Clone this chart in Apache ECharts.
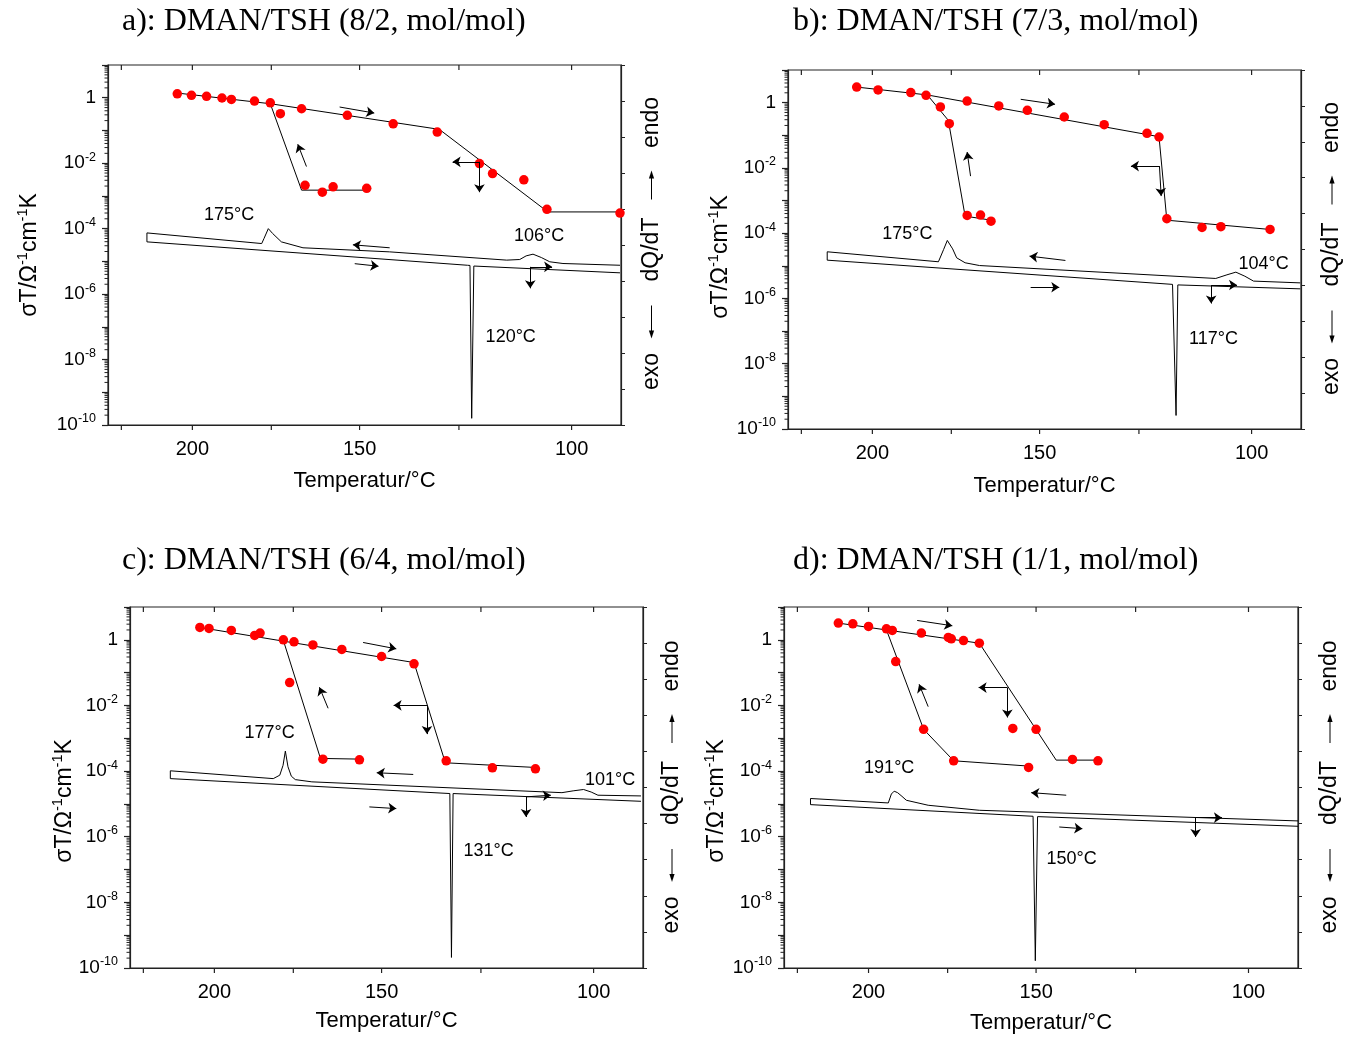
<!DOCTYPE html>
<html><head><meta charset="utf-8">
<script src="https://cdn.jsdelivr.net/npm/echarts@6/dist/echarts.min.js"></script>
<style>html,body{margin:0;padding:0;background:#fff}#c{width:1354px;height:1037px}</style>
</head><body><div id="c"></div>
<script>
// ---------- axis definitions ----------
const T_LEFT = 230, T_RIGHT = 90;            // °C at left/right plot edges (axis linear in 1000/T)
const xTickT = [225, 200, 175, 150, 125, 100];
const xLabelT = [200, 150, 100];
const yLabelExp = [-10, -8, -6, -4, -2, 0];
const logMinorFactors = [2, 3, 4, 5, 6, 7, 8, 9];
const titles = ['a): DMAN/TSH (8/2, mol/mol)', 'b): DMAN/TSH (7/3, mol/mol)',
                'c): DMAN/TSH (6/4, mol/mol)', 'd): DMAN/TSH (1/1, mol/mol)'];

// ---------- panel a ----------
const a_dots = [[205.1,1.32],[200.3,1.18],[195.3,1.10],[190.3,0.98],[187.3,0.89],[180.1,0.79],[175.3,0.70],
  [172.3,0.325],[166.1,0.46],[153.3,0.29],[141.2,0.16],[130.2,0.0895],[120.2,0.0097],[117.2,0.0048],
  [110.2,0.0031],[105.2,3.9e-4],[90.2,3.0e-4],[165.1,0.0021],[160.2,0.0013],[157.2,0.0019],[148.1,0.0017]];
const a_fitMain = [[205.1,1.39],[175.3,0.656],[129.7,0.108],[105.0,3.24e-4],[90.2,3.24e-4]];
const a_fitLoop = [[175.3,0.656],[166.1,1.5e-3],[148.1,1.5e-3]];
const a_dsc = [[90.2,7.6e-6],[101.8,8.6e-6],[104.6,9.7e-6],[106.4,1.31e-5],[108.2,1.66e-5],[109.7,1.47e-5],
  [111.1,1.14e-5],[114.0,1.09e-5],[142.1,1.95e-5],[165.7,2.6e-5],[172.0,3.94e-5],[174.6,7.1e-5],[175.9,1.0e-4],
  [177.2,5.0e-5],[177.9,3.5e-5],[215.7,7.4e-5],[215.7,3.94e-5],[123.0,7.6e-6],[122.4,7.5e-6],[122.0,1.6e-10],
  [121.5,7.2e-6],[121.1,7.1e-6],[90.2,4.46e-6]];
const a_arrows = [[[155.4,0.52],[146.1,0.34]],[[164.7,0.0079],[167.2,0.038]],
  [[120.2,0.011],[126.5,0.011]],[[120.2,0.011],[120.2,1.3e-3]],
  [[142.1,2.6e-5],[151.8,3.2e-5]],[[151.3,8.5e-6],[145.0,7.1e-6]],
  [[108.8,6.8e-6],[104.1,6.8e-6]],[[108.8,6.8e-6],[108.8,1.5e-6]]];
const a_notes = [[188.0,2.6e-4,'175°C'],[106.9,5.9e-5,'106°C'],[113.1,5e-8,'120°C']];

// ---------- panel b ----------
const b_dots = [[205.3,3.0],[198.1,2.45],[187.5,2.03],[182.7,1.68],[178.3,0.736],[175.6,0.227],[170.3,1.12],
  [161.2,0.79],[153.3,0.58],[143.5,0.363],[133.4,0.211],[123.1,0.115],[120.3,0.0885],[118.5,2.77e-4],
  [110.6,1.5e-4],[106.5,1.58e-4],[96.2,1.3e-4],[170.3,3.5e-4],[166.4,3.58e-4],[163.4,2.34e-4]];
const b_fitMain = [[205.3,3.0],[182.3,1.72],[120.3,0.0905],[118.5,2.5e-4],[96.2,1.3e-4]];
const b_fitLoop = [[182.3,1.72],[175.9,0.287],[170.9,3.34e-4],[163.4,2.5e-4]];
const b_dsc = [[90.15,3.0e-6],[99.6,3.4e-6],[101.4,4.8e-6],[103.3,6.4e-6],[105.2,5.3e-6],[107.6,4.1e-6],
  [166.7,1.02e-5],[170.9,1.24e-5],[173.4,1.76e-5],[174.6,3.3e-5],[176.2,6.0e-5],[177.3,3.2e-5],[178.9,1.33e-5],
  [215.6,2.69e-5],[215.6,1.49e-5],[117.2,2.7e-6],[116.8,2.65e-6],[116.4,2.6e-10],[116.0,2.6e-6],[90.15,1.97e-6]];
const b_arrows = [[[155.1,1.265],[145.9,0.889]],[[169.3,5.6e-3],[170.3,0.0307]],
  [[120.2,0.0114],[126.9,0.0114]],[[120.2,0.0114],[119.8,1.37e-3]],
  [[143.2,1.46e-5],[152.7,1.98e-5]],[[152.4,2.2e-6],[144.8,2.2e-6]],
  [[108.6,2.55e-6],[103.05,2.6e-6]],[[108.6,2.55e-6],[108.6,7e-7]]];
const b_notes = [[188.6,9.1e-5,'175°C'],[97.5,1.1e-5,'104°C'],[108.1,5.8e-8,'117°C']];

// ---------- panel c ----------
const c_dots = [[204.9,2.38],[201.8,2.22],[194.4,1.93],[186.9,1.36],[185.2,1.6],[178.0,1.0],[174.8,0.87],
  [169.2,0.70],[160.9,0.51],[150.0,0.31],[141.5,0.185],[133.4,2.06e-4],[122.3,1.26e-4],[112.5,1.17e-4],
  [176.1,0.0497],[166.3,2.3e-4],[156.0,2.2e-4]];
const c_fitMain = [[204.9,2.38],[141.5,0.203],[133.6,1.79e-4],[112.5,1.29e-4]];
const c_fitLoop = [[178.0,0.955],[167.0,2.43e-4],[156.0,2.32e-4]];
const c_dsc = [[90.4,1.75e-5],[99.1,1.84e-5],[100.5,2.3e-5],[102.1,2.75e-5],[104.3,2.5e-5],[106.7,2.2e-5],
  [169.5,4.7e-5],[174.4,5.5e-5],[175.6,7.0e-5],[176.6,1.35e-4],[177.4,4.07e-4],[178.1,1.5e-4],[179.1,7.5e-5],
  [181.1,5.9e-5],[215.2,1.02e-4],[215.2,5.9e-5],[132.5,2.07e-5],[132.1,2.1e-10],[131.7,2.07e-5],[90.4,1.2e-5]];
const c_arrows = [[[155.0,0.83],[146.1,0.53]],[[164.8,8.2e-3],[167.3,0.0358]],
  [[138.2,0.0101],[146.8,0.0101]],[[138.2,0.0101],[138.2,1.34e-3]],
  [[141.7,7.9e-5],[151.3,8.9e-5]],[[153.3,8.1e-6],[146.1,7.2e-6]],
  [[114.6,1.64e-5],[109.1,1.84e-5]],[[114.6,1.64e-5],[114.6,4e-6]]];
const c_notes = [[182.2,1.41e-3,'177°C'],[96.6,5.5e-5,'101°C'],[123.2,3.7e-7,'131°C']];

// ---------- panel d ----------
const d_dots = [[210.3,3.23],[205.3,3.08],[200.0,2.55],[194.1,2.17],[192.2,1.93],[183.0,1.6],[174.8,1.18],
  [173.9,1.07],[170.3,0.95],[165.7,0.79],[156.3,2.0e-3],[150.0,1.87e-3],[140.5,2.26e-4],[134.1,2.06e-4],
  [191.1,0.218],[182.3,1.87e-3],[173.2,2.06e-4],[152.0,1.29e-4]];
const d_fitMain = [[210.3,3.23],[165.7,0.79],[144.7,2.16e-4],[134.1,2.16e-4]];
const d_fitLoop = [[194.1,2.02],[182.3,1.87e-3],[173.2,2.06e-4],[152.0,1.42e-4]];
const d_dsc = [[90.0,3.03e-6],[165.7,6.4e-6],[180.9,9.1e-6],[187.7,1.29e-5],[189.1,1.7e-5],[190.5,2.2e-5],
  [191.6,2.44e-5],[192.5,2.0e-5],[193.5,1.07e-5],[220.2,1.46e-5],[220.2,9.5e-6],[150.8,4.2e-6],
  [150.2,1.67e-10],[149.6,4.1e-6],[90.0,2.08e-6]];
const d_arrows = [[[184.3,3.89],[173.6,2.68]],[[180.9,9.2e-3],[183.7,0.0442]],
  [[157.8,0.035],[165.9,0.035]],[[157.8,0.035],[157.8,4.3e-3]],
  [[142.1,1.84e-5],[151.3,2.2e-5]],[[143.9,1.98e-6],[138.0,1.76e-6]],
  [[111.3,3.82e-6],[105.6,3.82e-6]],[[111.3,3.82e-6],[111.3,9.8e-7]]];
const d_notes = [[193.2,1.26e-4,'191°C'],[140.7,2.14e-7,'150°C']];

// ---------- build ----------
const K0 = 273.15;
const inv = T => 1000 / (T + K0);
const pt = ([T, v]) => [inv(T), v];

const panels = [
  {dots:a_dots, main:a_fitMain, loop:a_fitLoop, dsc:a_dsc, arrows:a_arrows, notes:a_notes},
  {dots:b_dots, main:b_fitMain, loop:b_fitLoop, dsc:b_dsc, arrows:b_arrows, notes:b_notes},
  {dots:c_dots, main:c_fitMain, loop:c_fitLoop, dsc:c_dsc, arrows:c_arrows, notes:c_notes},
  {dots:d_dots, main:d_fitMain, loop:d_fitLoop, dsc:d_dsc, arrows:d_arrows, notes:d_notes}
];
const layout = [
  {left:108, top:65,  width:513, height:360, tx:122, ty:22,  yn:[30,255],  rx:651.5, ry:122.5, xn:481},
  {left:788, top:70,  width:513, height:359, tx:793, ty:22,  yn:[721,257], rx:1332,  ry:127.5, xn:486},
  {left:130, top:607, width:513, height:361, tx:122, ty:561, yn:[65,801],  rx:672,   ry:666,   xn:1021},
  {left:784, top:607, width:514, height:361, tx:793, ty:561, yn:[717,801], rx:1330,  ry:666,   xn:1023}
];

const SANS = '"Liberation Sans", Arial, sans-serif';
const AX = '#222';
const grids = [], xAxes = [], yAxes = [], series = [], graphics = [];

const minorVals = [];
for (let e = -10; e <= 0; e++) for (const f of logMinorFactors) minorVals.push(f * Math.pow(10, e));

function arrowV(x, yTail, yTip) {
  const dir = Math.sign(yTip - yTail);
  return {type:'group', children:[
    {type:'line', shape:{x1:x, y1:yTail, x2:x, y2:yTip - dir*5}, style:{stroke:'#000', lineWidth:1}},
    {type:'polygon', shape:{points:[[x-2.6, yTip - dir*8],[x+2.6, yTip - dir*8],[x, yTip]]}, style:{fill:'#000'}}
  ]};
}
function vtext(s, x, y, size) {
  return {type:'text', x, y, rotation: Math.PI/2,
    style:{text:s, fill:'#000', font: size + 'px ' + SANS, align:'center', verticalAlign:'middle'}};
}

layout.forEach((L, i) => {
  const P = panels[i];
  grids.push({left:L.left, top:L.top, width:L.width, height:L.height, show:true, borderColor:AX, borderWidth:1.2, containLabel:false});
  xAxes.push({type:'value', gridIndex:i, min:inv(T_LEFT), max:inv(T_RIGHT), position:'bottom',
    axisLine:{show:true, lineStyle:{color:AX, width:1.2}}, axisTick:{show:false}, axisLabel:{show:false}, splitLine:{show:false}});
  yAxes.push({type:'log', logBase:10, gridIndex:i, min:1e-10, max:10, interval:1, position:'left',
    axisLine:{show:true, onZero:false, lineStyle:{color:AX, width:1.2}},
    axisTick:{show:true, inside:false, length:6, lineStyle:{color:AX, width:1.2}},
    splitLine:{show:false}, minorTick:{show:false},
    axisLabel:{show:true, margin:12, color:'#000',
      formatter: v => {
        const e = Math.round(Math.log10(v));
        if (!yLabelExp.includes(e)) return '';
        return e === 0 ? '{b|1}' : '{b|10}{s|' + e + '}';
      },
      rich:{b:{fontSize:19, fontFamily:SANS, lineHeight:25, color:'#000'},
            s:{fontSize:12.5, fontFamily:SANS, lineHeight:12, verticalAlign:'top', color:'#000'}}}});
  yAxes.push({type:'value', gridIndex:i, min:0, max:10, interval:1, position:'right',
    axisLine:{show:true, lineStyle:{color:AX, width:1.2}},
    axisTick:{show:true, inside:false, length:4, lineStyle:{color:AX, width:1}},
    axisLabel:{show:false}, splitLine:{show:false}});
  const xi = i, yi = 2*i;
  series.push({type:'line', xAxisIndex:xi, yAxisIndex:yi, data:P.dsc.map(pt), showSymbol:false, symbol:'none',
    lineStyle:{color:'#000', width:1}, z:2, silent:true});
  series.push({type:'line', xAxisIndex:xi, yAxisIndex:yi, data:P.main.map(pt), showSymbol:false, symbol:'none',
    lineStyle:{color:'#000', width:1}, z:3, silent:true});
  series.push({type:'line', xAxisIndex:xi, yAxisIndex:yi, data:P.loop.map(pt), showSymbol:false, symbol:'none',
    lineStyle:{color:'#000', width:1}, z:3, silent:true});
  series.push({type:'scatter', xAxisIndex:xi, yAxisIndex:yi, data:P.dots.map(pt), symbol:'circle', symbolSize:9.5,
    itemStyle:{color:'#ff0000', opacity:1}, z:4, silent:true});
  series.push({type:'lines', coordinateSystem:'cartesian2d', xAxisIndex:xi, yAxisIndex:yi,
    data:P.arrows.map(a => ({coords:a.map(pt)})), symbol:['none','arrow'], symbolSize:8,
    lineStyle:{color:'#000', width:1, opacity:1}, z:5, silent:true});
  // annotation texts
  series.push({type:'custom', xAxisIndex:xi, yAxisIndex:yi, silent:true, clip:false, z:6,
    data:P.notes.map(n => [inv(n[0]), n[1]]),
    renderItem(params, api) {
      const p = api.coord([api.value(0), api.value(1)]);
      return {type:'text', x:p[0], y:p[1], style:{text:P.notes[params.dataIndex][2], fill:'#000',
        font:'18px ' + SANS, align:'center', verticalAlign:'middle'}};
    }});
  // x ticks (axis linear in 1/T) + labels
  series.push({type:'custom', xAxisIndex:xi, yAxisIndex:yi, silent:true, clip:false, z:7,
    data:xTickT.map(T => [inv(T), 1, T]),
    renderItem(params, api) {
      const cs = params.coordSys;
      const px = api.coord([api.value(0), 1])[0];
      const T = api.value(2);
      const bottom = cs.y + cs.height, top = cs.y;
      const ch = [
        {type:'line', shape:{x1:px, y1:bottom, x2:px, y2:bottom+5}, style:{stroke:AX, lineWidth:1.2}},
        {type:'line', shape:{x1:px, y1:top, x2:px, y2:top+5}, style:{stroke:AX, lineWidth:1.2}}
      ];
      if (xLabelT.includes(T)) ch.push({type:'text', x:px, y:bottom+24,
        style:{text:String(T), font:'20px ' + SANS, fill:'#000', align:'center', verticalAlign:'middle'}});
      return {type:'group', children:ch};
    }});
  // log minor ticks on left axis
  series.push({type:'custom', xAxisIndex:xi, yAxisIndex:yi, silent:true, clip:false, z:7,
    data:minorVals.map(v => [inv(T_LEFT), v]),
    renderItem(params, api) {
      const cs = params.coordSys;
      const py = api.coord([api.value(0), api.value(1)])[1];
      return {type:'line', shape:{x1:cs.x-3.5, y1:py, x2:cs.x, y2:py}, style:{stroke:AX, lineWidth:1}};
    }});

  // texts
  graphics.push({type:'text', x:L.tx, y:L.ty, style:{text:titles[i], font:'32px "Liberation Serif", "Times New Roman", serif',
    fill:'#000', align:'left', verticalAlign:'middle'}});
  graphics.push({type:'text', x:L.left + L.width/2, y:L.xn, style:{text:'Temperatur/°C', font:'22px ' + SANS,
    fill:'#000', align:'center', verticalAlign:'middle'}});
  graphics.push({type:'text', x:L.yn[0], y:L.yn[1], rotation:Math.PI/2, style:{
    text:'{n|σT/Ω}{s|-1}{n|cm}{s|-1}{n|K}', align:'center', verticalAlign:'middle', fill:'#000',
    rich:{n:{fontSize:23, fontFamily:SANS, lineHeight:29, fill:'#000'},
          s:{fontSize:14.5, fontFamily:SANS, lineHeight:14, verticalAlign:'top', fill:'#000'}}}});
  graphics.push(vtext('endo', L.rx, L.ry, 23));
  graphics.push(vtext('dQ/dT', L.rx, L.ry + 127, 23));
  graphics.push(vtext('exo', L.rx, L.ry + 249, 23));
  graphics.push(arrowV(L.rx, L.ry + 77, L.ry + 48));
  graphics.push(arrowV(L.rx, L.ry + 183, L.ry + 216));
});

const chart = echarts.init(document.getElementById('c'), null, {renderer:'canvas'});
chart.setOption({animation:false, backgroundColor:'#fff', grid:grids, xAxis:xAxes, yAxis:yAxes, series, graphic:graphics});
</script></body></html>
